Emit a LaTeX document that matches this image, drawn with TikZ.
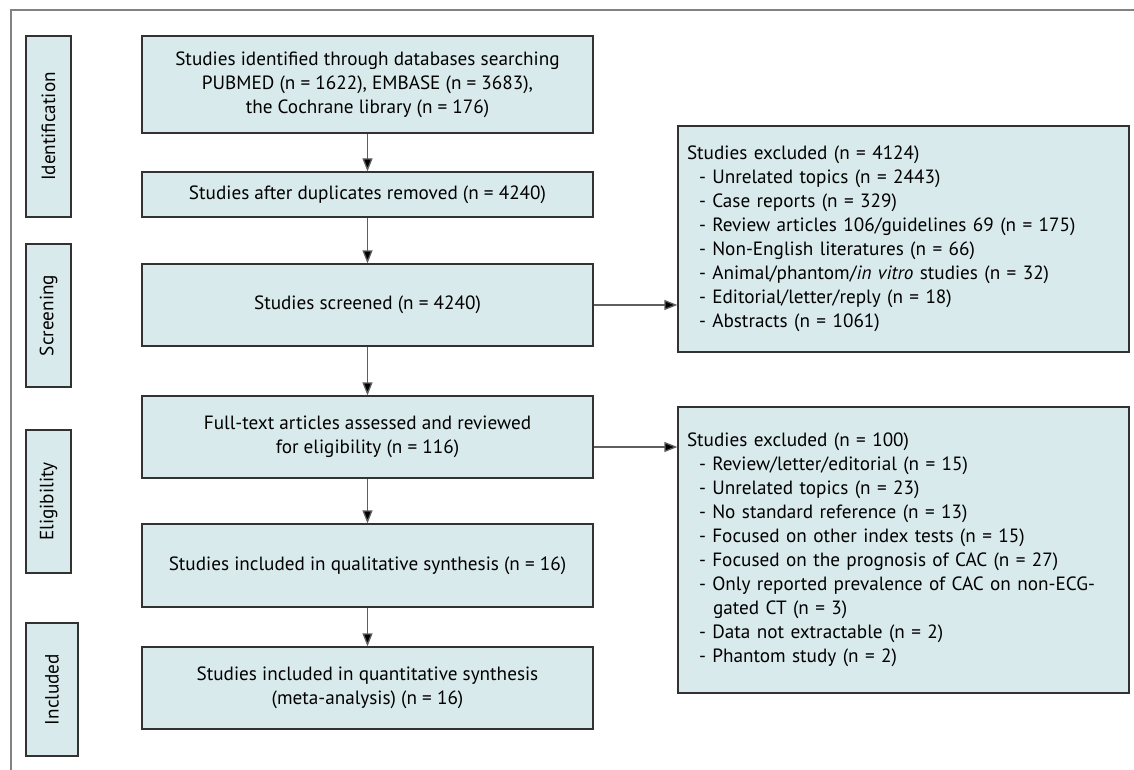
\documentclass[tikz,border=0pt]{standalone}
\usepackage{fontspec}
\setmainfont{PT Sans}
\usetikzlibrary{arrows.meta}
\definecolor{boxfill}{RGB}{217,234,236}
\definecolor{boxline}{RGB}{50,50,50}
\definecolor{frameline}{RGB}{130,130,130}
\definecolor{arrline}{RGB}{95,95,95}
\newcommand{\itm}{\hspace*{12pt}- }
\tikzset{
	box/.style={draw=boxline, fill=boxfill, line width=1.3pt, minimum width=451pt, inner sep=0pt, align=center, font=\fontsize{19.2}{24}\selectfont},
	stagebox/.style={box, rotate=90, minimum height=45pt},
	exclbox/.style={box, text width=433pt, inner xsep=9pt, align=left},
	arr/.style={draw=arrline, line width=1.3pt, -{Triangle[length=13pt,width=10pt,fill=black]}}
}
\begin{document}
\begin{tikzpicture}[x=1pt,y=-1pt]
	\useasboundingbox (0,0) rectangle (1134,770);
	\draw[frameline, line width=2pt] (11,770) -- (11,10) -- (1134,10);
	
	% stages
	\node[stagebox, minimum width=181pt] (sId) at (48.5,126.5) {Identification};
	\node[stagebox, minimum width=143pt] (sScr) at (48.5,315.5) {Screening};
	\node[stagebox, minimum width=143pt] (sElig) at (48.5,501.5) {Eligibility};
	\node[stagebox, minimum width=133pt, minimum height=52pt] (sIncl) at (52,689.5) {Included};
	
	% main flow
	\node[box, minimum height=97pt] (found) at (367.5,84.5) {Studies identified through databases searching\\PUBMED (n = 1622), EMBASE (n = 3683),\\the Cochrane library (n = 176)};
	\node[box, minimum height=45pt] (dedup) at (367.5,194.5) {Studies after duplicates removed (n = 4240)};
	\node[box, minimum height=82pt] (screen) at (367.5,305) {Studies screened (n = 4240)};
	\node[box, minimum height=82pt] (full) at (367.5,437) {Full-text articles assessed and reviewed\\for eligibility (n = 116)};
	\node[box, minimum height=83pt] (qual) at (367.5,565.5) {Studies included in qualitative synthesis (n = 16)};
	\node[box, minimum height=82pt] (quant) at (367.5,688) {Studies included in quantitative synthesis\\(meta-analysis) (n = 16)};
	
	% exclusions
	\node[exclbox, minimum height=226pt] (excl1) at (903.5,239) {Studies excluded (n = 4124)\\
		\itm Unrelated topics (n = 2443)\\
		\itm Case reports (n = 329)\\
		\itm Review articles 106/guidelines 69 (n = 175)\\
		\itm Non-English literatures (n = 66)\\
		\itm Animal/phantom/\textit{in vitro} studies (n = 32)\\
		\itm Editorial/letter/reply (n = 18)\\
		\itm Abstracts (n = 1061)};
	\node[exclbox, minimum height=286pt] (excl2) at (903.5,550) {Studies excluded (n = 100)\\
		\itm Review/letter/editorial (n = 15)\\
		\itm Unrelated topics (n = 23)\\
		\itm No standard reference (n = 13)\\
		\itm Focused on other index tests (n = 15)\\
		\itm Focused on the prognosis of CAC (n = 27)\\
		\itm Only reported prevalence of CAC on non-ECG-\\
		\hspace*{26pt}gated CT (n = 3)\\
		\itm Data not extractable (n = 2)\\
		\itm Phantom study (n = 2)};
	
	\draw[arr] (found) -- (dedup);
	\draw[arr] (dedup) -- (screen);
	\draw[arr] (screen) -- (full);
	\draw[arr] (full) -- (qual);
	\draw[arr] (qual) -- (quant);
	\draw[arr] (screen.east) -- (screen.east -| excl1.west);
	\draw[arr] ([yshift=-10pt]full.east) -- ([yshift=-10pt]full.east -| excl2.west);
\end{tikzpicture}
\end{document}
